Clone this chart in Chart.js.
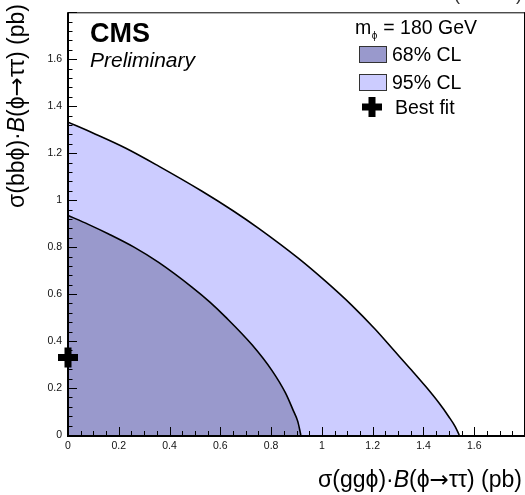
<!DOCTYPE html>
<html><head><meta charset="utf-8">
<script src="https://cdn.jsdelivr.net/npm/chart.js@4/dist/chart.umd.min.js"></script>
<style>html,body{margin:0;padding:0;overflow:hidden;background:#fff}#wrap{width:530px;height:495px}</style>
</head><body><div id="wrap"><canvas id="c" width="530" height="495"></canvas></div>
<script>
// 68% CL contour: sigma(gg phi)*B (x)  vs  sigma(bb phi)*B (y), in pb
const x68 = [0, 0.08, 0.16, 0.26, 0.357, 0.488, 0.56, 0.62, 0.724, 0.803, 0.856, 0.887, 0.905, 0.917];
const y68 = [0.935, 0.897, 0.856, 0.80, 0.735, 0.63, 0.565, 0.503, 0.385, 0.275, 0.18, 0.105, 0.058, 0];
// 95% CL contour
const x95 = [0, 0.1, 0.226, 0.357, 0.528, 0.65, 0.751, 0.908, 1.013, 1.118, 1.21, 1.28, 1.35, 1.41, 1.46, 1.50, 1.525, 1.541];
const y95 = [1.332, 1.285, 1.222, 1.145, 1.038, 0.955, 0.88, 0.752, 0.656, 0.552, 0.45, 0.365, 0.28, 0.205, 0.138, 0.078, 0.036, 0];
// best fit point
const bestX = [0];
const bestY = [0.33];
// tick labels
const xTicks = [0, 0.2, 0.4, 0.6, 0.8, 1, 1.2, 1.4, 1.6];
const yTicks = [0, 0.2, 0.4, 0.6, 0.8, 1, 1.2, 1.4, 1.6];
const labels = ['68% CL', '95% CL', 'Best fit'];

const C68 = '#9999cc', C95 = '#ccccff';
const FONT = '"Liberation Sans", Arial, Helvetica, sans-serif';
const pts = (xs, ys) => xs.map((x, i) => ({x, y: ys[i]}));

function fontOf(r, size) {
  return (r.i ? 'italic ' : '') + size + 'px ' + (r.f || FONT);
}
function drawRuns(ctx, runs, size, x, y, align) {
  let w = 0;
  runs.forEach(r => { ctx.font = fontOf(r, size); w += ctx.measureText(r.t).width; });
  let cx = align === 'right' ? x - w : x;
  ctx.textAlign = 'left';
  runs.forEach(r => { ctx.font = fontOf(r, size); ctx.fillText(r.t, cx, y); cx += ctx.measureText(r.t).width; });
}
function plus(ctx, x, y, r, w) {
  ctx.fillStyle = '#000';
  ctx.fillRect(x - r, y - w / 2, 2 * r, w);
  ctx.fillRect(x - w / 2, y - r, w, 2 * r);
}
const ARROW = '"DejaVu Sans", sans-serif';
function titleRuns(prod) {
  return [{t: '\u03C3(' + prod + '\u03D5)\u00B7'}, {t: 'B', i: true}, {t: '(\u03D5'}, {t: '\u2192', f: ARROW},
          {t: '\u03C4\u03C4) (pb)'}];
}

const decor = {
  id: 'decor',
  afterDatasetsDraw(chart) {
    const {ctx, chartArea: a, scales: {x, y}} = chart;
    ctx.save();
    ctx.strokeStyle = '#000';
    ctx.lineWidth = 1;
    ctx.beginPath();
    for (let k = 0; k <= 36; k++) {
      const v = k * 0.05, px = Math.round(x.getPixelForValue(v)) + 0.5;
      const len = (k % 4 === 0) ? 8 : 4;
      ctx.moveTo(px, a.bottom); ctx.lineTo(px, a.bottom - len);
    }
    for (let k = 0; k <= 45; k++) {
      const v = k * 0.04, py = Math.round(y.getPixelForValue(v)) + 0.5;
      const len = (k % 5 === 0) ? 9 : 4.5;
      ctx.moveTo(a.left, py); ctx.lineTo(a.left + len, py);
    }
    ctx.stroke();
    ctx.lineWidth = 1;
    ctx.beginPath();
    ctx.moveTo(a.left, a.top + 0.5); ctx.lineTo(a.right, a.top + 0.5);
    ctx.moveTo(a.right - 0.5, a.top); ctx.lineTo(a.right - 0.5, a.bottom);
    ctx.stroke();
    ctx.lineWidth = 2;
    ctx.beginPath();
    ctx.moveTo(a.left, a.top); ctx.lineTo(a.left, a.bottom + 1);
    ctx.lineTo(a.right, a.bottom + 1);
    ctx.stroke();
    ctx.restore();
  },
  afterDraw(chart) {
    const {ctx} = chart;
    ctx.save();
    ctx.textBaseline = 'alphabetic';
    // lumi text (mostly cut off at the top edge)
    ctx.font = '18px ' + FONT; ctx.textAlign = 'right'; ctx.fillStyle = '#333';
    ctx.fillText('35.9 fb\u207B\u00B9 (13 TeV)', 522, 0);
    ctx.fillStyle = '#000';
    // CMS / Preliminary
    ctx.textAlign = 'left';
    ctx.font = 'bold 27px ' + FONT; ctx.fillText('CMS', 90, 42);
    ctx.font = 'italic 21px ' + FONT; ctx.fillText('Preliminary', 90, 67);
    // legend
    const LS = 19.5;
    ctx.font = LS + 'px ' + FONT;
    ctx.fillText('m', 355, 34);
    const mw = ctx.measureText('m').width;
    ctx.font = '10px ' + FONT; ctx.fillText('\u03D5', 355 + mw + 0.5, 39);
    const sw = ctx.measureText('\u03D5').width;
    ctx.font = LS + 'px ' + FONT; ctx.fillText(' = 180 GeV', 355 + mw + sw + 1, 34);
    ctx.lineWidth = 1; ctx.strokeStyle = '#333';
    [[C68, 46, labels[0], 61], [C95, 74, labels[1], 89]].forEach(([c, yy, t, by]) => {
      ctx.fillStyle = c; ctx.fillRect(359.5, yy + 0.5, 27, 16);
      ctx.strokeRect(359.5, yy + 0.5, 27, 16);
      ctx.fillStyle = '#000'; ctx.fillText(t, 392, by);
    });
    plus(ctx, 372, 107, 10, 7);
    ctx.fillStyle = '#000'; ctx.fillText(labels[2], 395, 114);
    // axis titles
    drawRuns(ctx, titleRuns('gg'), 23, 522, 487, 'right');
    ctx.translate(24, 4); ctx.rotate(-Math.PI / 2);
    drawRuns(ctx, titleRuns('bb'), 23, 0, 0, 'right');
    ctx.restore();
  }
};

new Chart(document.getElementById('c'), {
  type: 'scatter',
  data: {
    datasets: [
      {label: 'Best fit', data: pts(bestX, bestY), pointRadius: 0, showLine: false, order: 0, clip: false,
       backgroundColor: '#000', borderColor: '#000'},
      {label: '68% CL', data: pts(x68, y68), showLine: true, fill: 'origin', backgroundColor: C68, borderColor: '#000',
       borderWidth: 1.6, pointRadius: 0, cubicInterpolationMode: 'monotone', order: 1},
      {label: '95% CL', data: pts(x95, y95), showLine: true, fill: 'origin', backgroundColor: C95, borderColor: '#000',
       borderWidth: 1.6, pointRadius: 0, cubicInterpolationMode: 'monotone', order: 2}
    ]
  },
  options: {
    responsive: false, animation: false, devicePixelRatio: 1,
    layout: {padding: {top: 6, right: 5, left: 0, bottom: 0}},
    plugins: {legend: {display: false}, tooltip: {enabled: false}},
    scales: {
      x: {type: 'linear', min: 0, max: 1.8,
          afterBuildTicks: s => { s.ticks = xTicks.map(v => ({value: v})); },
          afterFit: s => { s.height = 60; },
          grid: {display: false, drawTicks: false}, border: {display: false},
          ticks: {padding: 5, color: '#111', font: {family: FONT, size: 10.5}, maxRotation: 0, autoSkip: false,
                  callback: v => String(v)}},
      y: {type: 'linear', min: 0, max: 1.8,
          afterBuildTicks: s => { s.ticks = yTicks.map(v => ({value: v})); },
          afterFit: s => { s.width = 68; },
          grid: {display: false, drawTicks: false}, border: {display: false},
          ticks: {padding: 6, color: '#111', font: {family: FONT, size: 10.5}, autoSkip: false,
                  callback: v => String(v)}}
    }
  },
  plugins: [decor, {
    id: 'bestfit',
    afterDatasetsDraw(chart) {
      const meta = chart.getDatasetMeta(0);
      meta.data.forEach(p => plus(chart.ctx, p.x, p.y, 10, 7));
    }
  }]
});
</script></body></html>
